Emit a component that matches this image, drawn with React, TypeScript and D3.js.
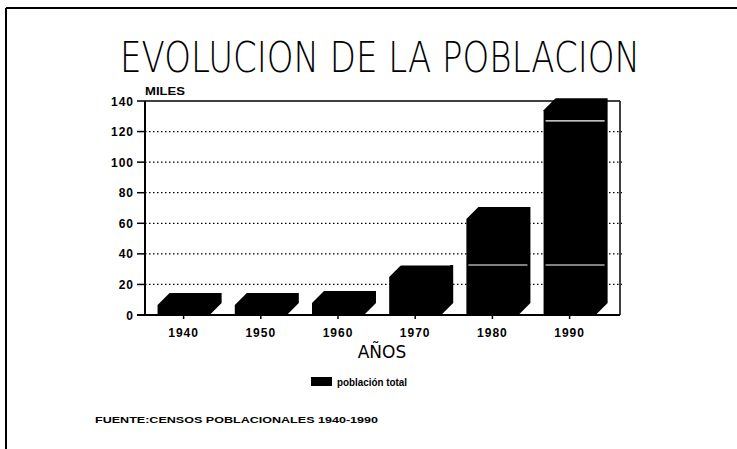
import React from "react";
import * as d3 from "d3";

const years = ["1940", "1950", "1960", "1970", "1980", "1990"];
const population = [6.5, 6.5, 7.8, 24.8, 62.8, 134];
const whiteLineYears = ["1970", "1980", "1990", "1990"];
const whiteLineValues = [32.7, 32.7, 32.7, 127];
const yTicks = [0, 20, 40, 60, 80, 100, 120, 140];
const titleText = "EVOLUCION DE LA POBLACION";
const yUnit = "MILES";
const xTitle = "AÑOS";
const legendLabel = "población total";
const sourceText = "FUENTE:CENSOS POBLACIONALES 1940-1990";

const W = 737;
const H = 449;
const plot = { left: 145, right: 620, top: 101, bottom: 315 };
const depth = 12;

export default function App() {
  const x = d3
    .scaleBand<string>()
    .domain(years)
    .range([plot.left, plot.left + 77.2 * 6])
    .paddingInner(0.326)
    .paddingOuter(0.163);
  const y = d3.scaleLinear().domain([0, 140]).range([plot.bottom, plot.top]);
  const bw = x.bandwidth();
  const labelFont = "'Liberation Sans Narrow', 'Liberation Sans', Arial, sans-serif";
  const thinFont = "'DejaVu Sans ExtraLight', 'DejaVu Sans', sans-serif";

  const barPath = (yr: string, v: number) => {
    const x0 = x(yr)!;
    const x1 = x0 + bw;
    const y0 = y(0);
    const yf = y(v);
    const p = d3.path();
    p.moveTo(x0, y0);
    p.lineTo(x0, yf);
    p.lineTo(x0 + depth, yf - depth);
    p.lineTo(x1 + depth, yf - depth);
    p.lineTo(x1 + depth, y0 - depth);
    p.lineTo(x1, y0);
    p.closePath();
    return p.toString();
  };

  return (
    <svg
      width={W}
      height={H}
      style={{ position: "absolute", left: 0, top: 0, background: "#fff" }}
    >
      {/* frame */}
      <line x1={6} y1={8} x2={W} y2={8} stroke="#000" strokeWidth={2} />
      <line x1={6} y1={8} x2={6} y2={H} stroke="#000" strokeWidth={2} />

      {/* title */}
      <text
        transform="translate(120,72) scale(1,1.35)"
        x={0}
        y={0}
        fontFamily={thinFont}
        fontWeight={200}
        fontSize={31}
        textLength={520}
        lengthAdjust="spacingAndGlyphs"
        fill="#000"
      >
        {titleText}
      </text>

      {/* y unit */}
      <text
        x={145}
        y={95}
        fontFamily={labelFont}
        fontWeight="bold"
        fontSize={11}
        textLength={40}
        lengthAdjust="spacingAndGlyphs"
      >
        {yUnit}
      </text>

      {/* gridlines */}
      {yTicks
        .filter((t) => t > 0 && t < 140)
        .map((t) => (
          <line
            key={"g" + t}
            x1={plot.left}
            x2={plot.right + 2}
            y1={y(t)}
            y2={y(t)}
            stroke="#000"
            strokeWidth={1.3}
            strokeDasharray="1.5,2.5"
          />
        ))}

      {/* plot border */}
      <line x1={plot.left} x2={plot.right} y1={plot.top} y2={plot.top} stroke="#000" strokeWidth={1.5} />
      <line x1={plot.right} x2={plot.right} y1={plot.top} y2={plot.bottom} stroke="#000" strokeWidth={1.5} />
      <line x1={plot.left - 8} x2={plot.right} y1={plot.bottom} y2={plot.bottom} stroke="#000" strokeWidth={1.8} />
      <line x1={plot.left} x2={plot.left} y1={plot.top} y2={plot.bottom} stroke="#000" strokeWidth={2} />

      {/* y ticks */}
      {yTicks.map((t) => (
        <g key={"t" + t}>
          <line x1={plot.left - 8} x2={plot.left} y1={y(t)} y2={y(t)} stroke="#000" strokeWidth={1.5} />
          <text
            x={134}
            y={y(t) + 4.5}
            textAnchor="end"
            fontFamily={labelFont}
            fontWeight="bold"
            fontSize={12}
            letterSpacing={1}
          >
            {t}
          </text>
        </g>
      ))}

      {/* bars */}
      {years.map((yr, i) => (
        <path key={yr} d={barPath(yr, population[i])} fill="#000" />
      ))}

      {/* white lines inside bars */}
      {whiteLineYears.map((yr, i) => (
        <line
          key={"w" + i}
          x1={x(yr)! + 2}
          x2={x(yr)! + bw + depth - 3}
          y1={y(whiteLineValues[i])}
          y2={y(whiteLineValues[i])}
          stroke="#fff"
          strokeWidth={1.2}
        />
      ))}

      {/* x ticks and labels */}
      {years.map((yr) => {
        const cx = x(yr)! + bw / 2;
        return (
          <g key={"x" + yr}>
            <line x1={cx} x2={cx} y1={plot.bottom} y2={plot.bottom + 4} stroke="#000" strokeWidth={1.5} />
            <text
              x={cx}
              y={337}
              textAnchor="middle"
              fontFamily={labelFont}
              fontWeight="bold"
              fontSize={12}
              letterSpacing={1}
            >
              {yr}
            </text>
          </g>
        );
      })}

      {/* x title */}
      <text
        x={382}
        y={358}
        textAnchor="middle"
        fontFamily="'DejaVu Sans', sans-serif"
        fontWeight={400}
        fontSize={17}
        fill="#000"
      >
        {xTitle}
      </text>

      {/* legend */}
      <rect x={311} y={377} width={21} height={9} fill="#000" />
      <text
        x={337}
        y={386}
        fontFamily={labelFont}
        fontWeight="bold"
        fontSize={11}
        textLength={70}
        lengthAdjust="spacingAndGlyphs"
      >
        {legendLabel}
      </text>

      {/* source */}
      <text
        x={95}
        y={423}
        fontFamily={labelFont}
        fontWeight="bold"
        fontSize={9.5}
        textLength={283}
        lengthAdjust="spacingAndGlyphs"
      >
        {sourceText}
      </text>
    </svg>
  );
}
